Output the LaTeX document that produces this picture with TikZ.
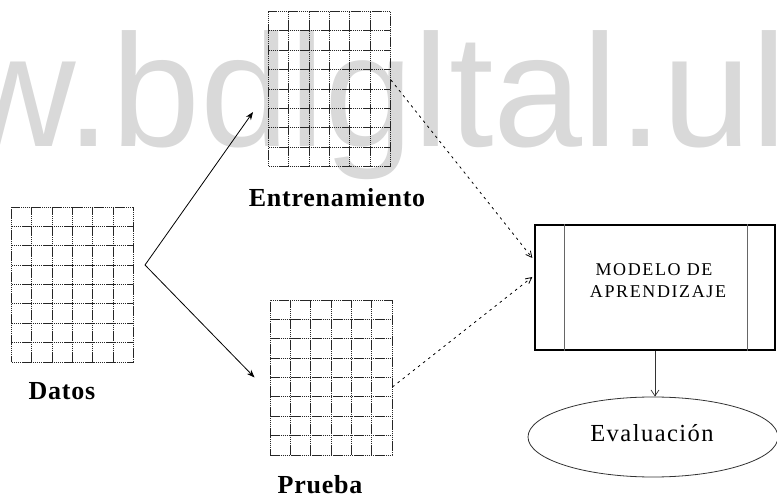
\documentclass[tikz,border=0pt]{standalone}
\usepackage{fontspec}
\setmainfont{Liberation Serif}
\newfontfamily\wmfont{Liberation Sans}
\usetikzlibrary{calc,arrows.meta,shapes.geometric}

\definecolor{wmgray}{gray}{0.85}
\definecolor{gridcol}{gray}{0.15}

\tikzset{
  gridline/.style={draw=gridcol, line width=0.9pt, dash pattern=on 1.5pt off 0.6pt},
  datagrid/.style={gridline, rectangle, inner sep=0pt,
    minimum width=122pt, minimum height=155pt,
    path picture={
      \foreach \k in {1,...,5}
        \draw[gridline]
          ($(path picture bounding box.south west)!\k/6!(path picture bounding box.south east)$) --
          ($(path picture bounding box.north west)!\k/6!(path picture bounding box.north east)$);
      \foreach \k in {1,...,7}
        \draw[gridline]
          ($(path picture bounding box.south west)!\k/8!(path picture bounding box.north west)$) --
          ($(path picture bounding box.south east)!\k/8!(path picture bounding box.north east)$);
    }},
  gridlabel/.style={anchor=base, inner sep=0pt,
    font={\fontsize{26}{28}\selectfont\addfontfeature{LetterSpace=3}\bfseries}},
  modeltext/.style={anchor=base, inner sep=0pt,
    font={\fontsize{18}{20}\selectfont\addfontfeature{LetterSpace=9}}},
  splitarrow/.style={line width=0.8pt, -{Stealth[length=8pt,width=6pt]}},
  feedarrow/.style={line width=0.8pt, dash pattern=on 2.5pt off 4pt,
    -{Straight Barb[length=6pt,width=6pt]}},
  modelbox/.style={draw, line width=1.3pt, rectangle, inner sep=0pt,
    minimum width=240pt, minimum height=125pt},
  evalnode/.style={draw=black!80, line width=0.8pt, ellipse, inner sep=0pt,
    minimum width=250pt, minimum height=80pt},
}

\begin{document}
\begin{tikzpicture}[x=1pt,y=1pt]
  \useasboundingbox (0,0) rectangle (777,501);

  % background watermark
  \node[anchor=base east, inner sep=0pt, text=wmgray,
        font={\wmfont\fontsize{160}{160}\selectfont}] (wm) at (787.5,354) {w.bdlgltal.ul};

  % data tables
  \node[datagrid] (data)  at (72.5,216.5) {};
  \node[datagrid] (train) at (329.5,412)  {};
  \node[datagrid] (test)  at (331,123.5)  {};

  \node[gridlabel] (datalbl)  at (62,101) {Datos};
  \node[gridlabel] (trainlbl) at (337,294) {Entrenamiento};
  \node[gridlabel] (testlbl)  at (320,7)   {Prueba};

  % split of the data set
  \coordinate (split) at (145,236);
  \draw[splitarrow] (split) -- ($(train.west)+(-15,-23)$);
  \draw[splitarrow] (split) -- ($(test.west)+(-15,0)$);

  % learning model
  \node[modelbox] (model) at (655,213.5) {};
  \draw[black!60, line width=0.6pt] ($(model.north west)+(30,0)$) -- ($(model.south west)+(30,0)$);
  \draw[black!60, line width=0.6pt] ($(model.north east)+(-28,0)$) -- ($(model.south east)+(-28,0)$);
  \node[modeltext] (m1) at (654,225) {MODELO DE};
  \node[modeltext] (m2) at (658,203) {APRENDIZAJE};

  \draw[feedarrow] ($(train.east)+(0,9)$) -- ($(model.west)+(-2,29.5)$);
  \draw[feedarrow] ($(test.east)+(0,-9.5)$) -- ($(model.west)+(-2,10.5)$);

  % evaluation
  \node[evalnode] (eval) at (653,64) {};
  \node[anchor=base, inner sep=0pt,
        font={\fontsize{24.5}{27}\selectfont\addfontfeature{LetterSpace=6}}] (evallbl) at (652,59) {Evaluación};
  \draw[line width=0.7pt, black!80, -{Straight Barb[length=6pt,width=8pt]}]
    (model.south) -- (model.south |- eval.north);
\end{tikzpicture}
\end{document}
